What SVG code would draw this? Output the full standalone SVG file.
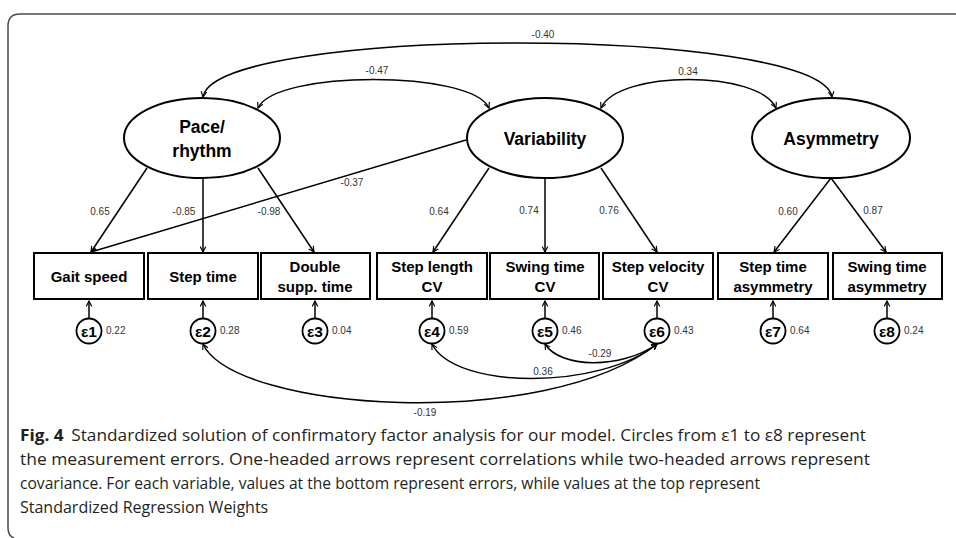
<svg xmlns="http://www.w3.org/2000/svg" width="956" height="538" viewBox="0 0 956 538">
<defs>
<style>
.frame{fill:none;stroke:#4a4a4a;stroke-width:1.5}
.lat{fill:#fff;stroke:#000;stroke-width:2}
.box{fill:#fff;stroke:#000;stroke-width:2}
.err{fill:#fff;stroke:#000;stroke-width:1.8}
.lt{font-family:"Liberation Sans",Arial,sans-serif;font-weight:bold;font-size:17.5px;fill:#000;text-anchor:middle}
.bt{font-family:"Liberation Sans",Arial,sans-serif;font-weight:bold;font-size:15px;fill:#000;text-anchor:middle}
.et{font-family:"Liberation Sans",Arial,sans-serif;font-weight:bold;font-size:15.5px;fill:#000;text-anchor:middle}
.num{font-family:"Liberation Sans",Arial,sans-serif;font-size:10px;fill:#333}
.mid{text-anchor:middle}
.c{fill:none;stroke:#000;stroke-width:1.5}
.cap{font-family:"Open Sans","Liberation Sans",sans-serif;font-size:16px;fill:#231f20}
</style>
<marker id="ah" viewBox="0 0 8 8" markerWidth="7" markerHeight="7" refX="7" refY="4" orient="auto-start-reverse" markerUnits="userSpaceOnUse">
<path d="M0.8,0.8 L7,4 L0.8,7.2" fill="none" stroke="#000" stroke-width="1.3"/>
</marker>
</defs>
<rect width="956" height="538" fill="#fff"/>
<path class="frame" d="M956,14 H20 Q8,14 8,26 V528 Q8,536 14,538"/>

<g id="connectors">
<path class="c" marker-end="url(#ah)" d="M147,168 L91,252"/>
<path class="c" marker-end="url(#ah)" d="M203,178 L203,252"/>
<path class="c" marker-end="url(#ah)" d="M258,168 L314,252"/>
<path class="c" marker-end="url(#ah)" d="M466,140 L91,252"/>
<path class="c" marker-end="url(#ah)" d="M489,168 L433,252"/>
<path class="c" marker-end="url(#ah)" d="M545,178 L545,252"/>
<path class="c" marker-end="url(#ah)" d="M601,168 L657,252"/>
<path class="c" marker-end="url(#ah)" d="M831,178 L774,252"/>
<path class="c" marker-end="url(#ah)" d="M831,178 L886,252"/>
<path class="c" marker-end="url(#ah)" d="M89,318 V301"/>
<path class="c" marker-end="url(#ah)" d="M203,318 V301"/>
<path class="c" marker-end="url(#ah)" d="M315,318 V301"/>
<path class="c" marker-end="url(#ah)" d="M432,318 V301"/>
<path class="c" marker-end="url(#ah)" d="M545,318 V301"/>
<path class="c" marker-end="url(#ah)" d="M657,318 V301"/>
<path class="c" marker-end="url(#ah)" d="M773,318 V301"/>
<path class="c" marker-end="url(#ah)" d="M887,318 V301"/>
<path class="c" marker-start="url(#ah)" marker-end="url(#ah)" d="M203,97 C215,25 820,25 832,97"/>
<path class="c" marker-start="url(#ah)" marker-end="url(#ah)" d="M258,108 C275,70 472,70 489,108"/>
<path class="c" marker-start="url(#ah)" marker-end="url(#ah)" d="M601,108 C618,70 759,70 776,108"/>
<path class="c" marker-start="url(#ah)" marker-end="url(#ah)" d="M203,344 C235,412 545,432 657,344"/>
<path class="c" marker-start="url(#ah)" marker-end="url(#ah)" d="M432,344 C455,390 600,390 657,344"/>
<path class="c" marker-start="url(#ah)" marker-end="url(#ah)" d="M545,344 C560,368 620,370 657,344"/>
<text class="num mid" x="543" y="38">-0.40</text>
<text class="num mid" x="377" y="74">-0.47</text>
<text class="num mid" x="688" y="75">0.34</text>
<text class="num mid" x="352" y="186">-0.37</text>
<text class="num mid" x="100" y="215">0.65</text>
<text class="num mid" x="184" y="215">-0.85</text>
<text class="num mid" x="269" y="215">-0.98</text>
<text class="num mid" x="439" y="215">0.64</text>
<text class="num mid" x="529" y="214">0.74</text>
<text class="num mid" x="609" y="214">0.76</text>
<text class="num mid" x="788" y="215">0.60</text>
<text class="num mid" x="873" y="214">0.87</text>
<text class="num mid" x="600" y="357">-0.29</text>
<text class="num mid" x="543" y="375">0.36</text>
<text class="num mid" x="425" y="416">-0.19</text>
</g>

<g id="pace">
<ellipse class="lat" cx="202" cy="138" rx="78" ry="40"/>
<text class="lt" x="202" y="133">Pace/</text>
<text class="lt" x="202" y="157">rhythm</text>
</g>
<g id="variability">
<ellipse class="lat" cx="545" cy="138" rx="78" ry="40"/>
<text class="lt" x="545" y="145">Variability</text>
</g>
<g id="asymmetry">
<ellipse class="lat" cx="831" cy="138" rx="79" ry="40"/>
<text class="lt" x="831" y="145">Asymmetry</text>
</g>

<g id="gait-speed"><rect class="box" x="34" y="253" width="110" height="46"/><text class="bt" x="89" y="282">Gait speed</text></g>
<g id="step-time"><rect class="box" x="148" y="253" width="110" height="46"/><text class="bt" x="203" y="282">Step time</text></g>
<g id="double-supp"><rect class="box" x="261" y="253" width="109" height="46"/><text class="bt" x="315" y="272">Double</text><text class="bt" x="315" y="292">supp. time</text></g>
<g id="step-length-cv"><rect class="box" x="377" y="253" width="110" height="46"/><text class="bt" x="432" y="272">Step length</text><text class="bt" x="432" y="292">CV</text></g>
<g id="swing-time-cv"><rect class="box" x="490" y="253" width="109" height="46"/><text class="bt" x="545" y="272">Swing time</text><text class="bt" x="545" y="292">CV</text></g>
<g id="step-velocity-cv"><rect class="box" x="603" y="253" width="110" height="46"/><text class="bt" x="658" y="272">Step velocity</text><text class="bt" x="658" y="292">CV</text></g>
<g id="step-time-asym"><rect class="box" x="718" y="253" width="110" height="46"/><text class="bt" x="773" y="272">Step time</text><text class="bt" x="773" y="292">asymmetry</text></g>
<g id="swing-time-asym"><rect class="box" x="833" y="253" width="109" height="46"/><text class="bt" x="887" y="272">Swing time</text><text class="bt" x="887" y="292">asymmetry</text></g>

<g id="e1"><circle class="err" cx="89" cy="331" r="12.5"/><text class="et" x="89" y="336.5">ε1</text><text class="num" x="106" y="334">0.22</text></g>
<g id="e2"><circle class="err" cx="203" cy="331" r="12.5"/><text class="et" x="203" y="336.5">ε2</text><text class="num" x="220" y="334">0.28</text></g>
<g id="e3"><circle class="err" cx="315" cy="331" r="12.5"/><text class="et" x="315" y="336.5">ε3</text><text class="num" x="332" y="334">0.04</text></g>
<g id="e4"><circle class="err" cx="432" cy="331" r="12.5"/><text class="et" x="432" y="336.5">ε4</text><text class="num" x="449" y="334">0.59</text></g>
<g id="e5"><circle class="err" cx="545" cy="331" r="12.5"/><text class="et" x="545" y="336.5">ε5</text><text class="num" x="562" y="334">0.46</text></g>
<g id="e6"><circle class="err" cx="657" cy="331" r="12.5"/><text class="et" x="657" y="336.5">ε6</text><text class="num" x="674" y="334">0.43</text></g>
<g id="e7"><circle class="err" cx="773" cy="331" r="12.5"/><text class="et" x="773" y="336.5">ε7</text><text class="num" x="790" y="334">0.64</text></g>
<g id="e8"><circle class="err" cx="887" cy="331" r="12.5"/><text class="et" x="887" y="336.5">ε8</text><text class="num" x="904" y="334">0.24</text></g>

<g id="caption">
<text class="cap" x="20" y="441" textLength="846" lengthAdjust="spacingAndGlyphs"><tspan font-weight="bold">Fig. 4</tspan><tspan dx="7">Standardized solution of confirmatory factor analysis for our model. Circles from ε1 to ε8 represent</tspan></text>
<text class="cap" x="20" y="465" textLength="850" lengthAdjust="spacingAndGlyphs">the measurement errors. One-headed arrows represent correlations while two-headed arrows represent</text>
<text class="cap" x="20" y="489" textLength="740" lengthAdjust="spacingAndGlyphs">covariance. For each variable, values at the bottom represent errors, while values at the top represent</text>
<text class="cap" x="20" y="513">Standardized Regression Weights</text>
</g>
</svg>
